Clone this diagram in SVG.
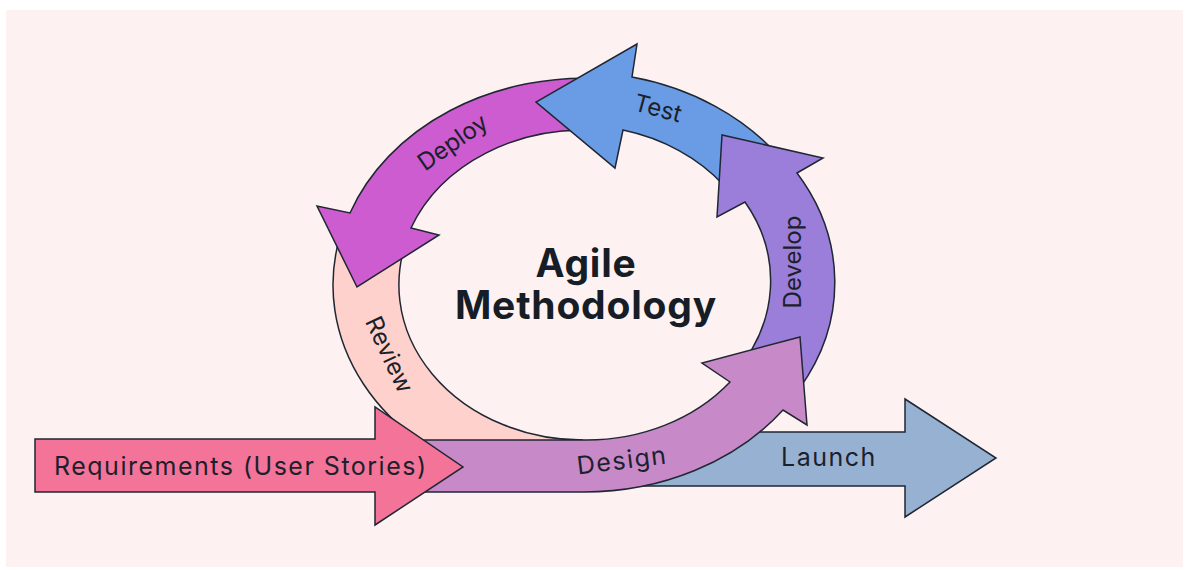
<svg xmlns="http://www.w3.org/2000/svg" width="1189" height="570" viewBox="0 0 1189 570">
  <style>
    .shape { stroke: #1f2733; stroke-width: 1.5; stroke-linejoin: miter; }
    .lbl { font-family: Inter, "Liberation Sans", sans-serif; font-size: 24px; fill: #1b212b; }
    .wide { font-size: 25px; letter-spacing: 1.5px; }
    .rot { dominant-baseline: central; text-anchor: middle; }
    .title { font-family: Inter, "Liberation Sans", sans-serif; font-size: 39px; font-weight: 700; letter-spacing: 0.8px; fill: #161d26; text-anchor: middle; }
  </style>
  <rect x="0" y="0" width="1189" height="570" fill="#ffffff"/>
  <rect x="6" y="10" width="1177" height="557" fill="#fdf2f1"/>

  <!-- cycle ring: ellipse centre (583,285), outer 250x207, inner 184x155 -->
  <g id="connectors">
    <g id="launch">
      <path class="shape" fill="#97b1d3" d="M680 432 L905 432 L905 399 L996 458 L905 517 L905 486 L625 486 Z"/>
      <text class="lbl wide" x="829" y="466" text-anchor="middle">Launch</text>
    </g>
    <g id="review">
      <path class="shape" fill="#ffd1cc" d="M339.4 238.4 A250 207 0 0 0 497.5 479.5 L583 440 A184 155 0 0 1 410 232 Z"/>
      <text class="lbl rot" transform="translate(389.5 354.5) rotate(65)">Review</text>
    </g>
    <g id="deploy">
      <path class="shape" fill="#cc5ccf" d="M605 79 A250 207 0 0 0 350 213 L317 206 L357 287 L439 235 L411 228 A184 155 0 0 1 599 131 Z"/>
      <text class="lbl rot" transform="translate(452.5 142) rotate(-35)">Deploy</text>
    </g>
    <g id="test">
      <path class="shape" fill="#6a9ce6" d="M780 157.5 A250 207 0 0 0 632 77 L637 44 L536 102 L615 168 L623 130 A184 155 0 0 1 724 185.4 Z"/>
      <text class="lbl rot" transform="translate(658 108) rotate(15)">Test</text>
    </g>
    <g id="develop">
      <path class="shape" fill="#9b7dda" d="M797 173 L823 158 L722 135 L717 217 L745 202 A184 155 0 0 1 733.7 374 L799.5 388.5 A250 207 0 0 0 797 173 Z"/>
      <text class="lbl rot" transform="translate(792.5 262) rotate(-90)">Develop</text>
    </g>
    <g id="design">
      <path class="shape" fill="#c889c9" d="M420 440 L583 440 A184 155 0 0 0 730 382 L702 363 L800 337 L807 425 L783 410 A250 207 0 0 1 583 492 L420 492 Z"/>
      <text class="lbl wide rot" transform="translate(622 460) rotate(-7)">Design</text>
    </g>
    <g id="requirements">
      <path class="shape" fill="#f47398" d="M35 439 L375 439 L375 407 L463 467 L375 525 L375 492 L35 492 Z"/>
      <text class="lbl wide" x="54" y="475">Requirements (User Stories)</text>
    </g>
  </g>

  <g id="title">
    <text class="title" x="586" y="277">Agile</text>
    <text class="title" x="586" y="319">Methodology</text>
  </g>
</svg>
